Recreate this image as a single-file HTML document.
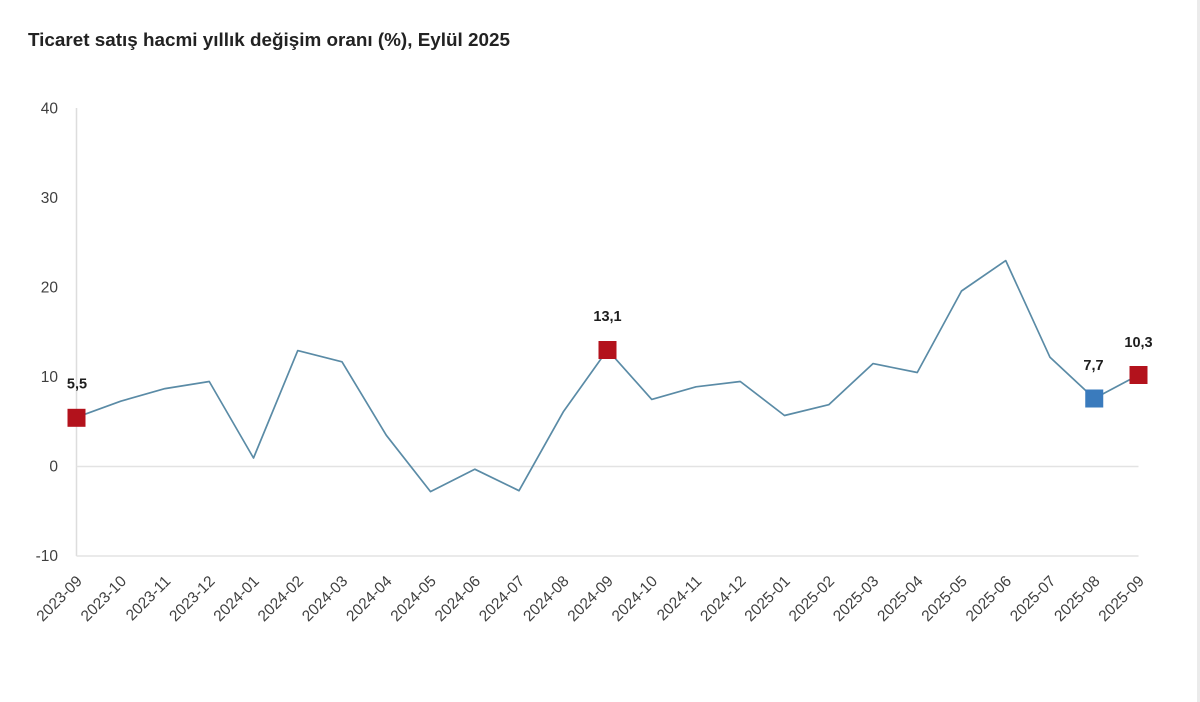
<!DOCTYPE html>
<html>
<head>
<meta charset="utf-8">
<style>
  html, body { margin: 0; padding: 0; background: #ffffff; }
  body { width: 1200px; height: 702px; overflow: hidden; }
  svg { display: block; }
</style>
</head>
<body>
<svg width="1200" height="702" viewBox="0 0 1200 702" xmlns="http://www.w3.org/2000/svg">
  <rect x="0" y="0" width="1200" height="702" fill="#ffffff"/>
  <!-- right border -->
  <rect x="1197" y="0" width="3" height="702" fill="#ebebeb"/>

  <!-- title -->
  <text x="28" y="46" font-family="Liberation Sans, Arial, sans-serif" font-size="18" font-weight="bold" fill="#222222" textLength="482" lengthAdjust="spacingAndGlyphs">Ticaret satış hacmi yıllık değişim oranı (%), Eylül 2025</text>

  <!-- axes / gridlines -->
  <line x1="76.5" y1="108" x2="76.5" y2="556" stroke="#dddddd" stroke-width="1.5"/>
  <line x1="76.5" y1="466.5" x2="1138.5" y2="466.5" stroke="#e3e3e3" stroke-width="1.5"/>
  <line x1="76.5" y1="556" x2="1138.5" y2="556" stroke="#e3e3e3" stroke-width="1.5"/>

  <!-- y tick labels -->
  <g font-family="Liberation Sans, Arial, sans-serif" font-size="15.5" fill="#3f3f3f" text-anchor="end">
    <text x="58" y="113.5">40</text>
    <text x="58" y="203">30</text>
    <text x="58" y="292.5">20</text>
    <text x="58" y="382">10</text>
    <text x="58" y="471.5">0</text>
    <text x="58" y="561">-10</text>
  </g>

  <!-- x tick labels -->
  <g font-family="Liberation Sans, Arial, sans-serif" font-size="15.5" fill="#3f3f3f" text-anchor="end">
    <text transform="translate(83,582) rotate(-45)">2023-09</text>
    <text transform="translate(127.25,582) rotate(-45)">2023-10</text>
    <text transform="translate(171.5,582) rotate(-45)">2023-11</text>
    <text transform="translate(215.75,582) rotate(-45)">2023-12</text>
    <text transform="translate(260,582) rotate(-45)">2024-01</text>
    <text transform="translate(304.25,582) rotate(-45)">2024-02</text>
    <text transform="translate(348.5,582) rotate(-45)">2024-03</text>
    <text transform="translate(392.75,582) rotate(-45)">2024-04</text>
    <text transform="translate(437,582) rotate(-45)">2024-05</text>
    <text transform="translate(481.25,582) rotate(-45)">2024-06</text>
    <text transform="translate(525.5,582) rotate(-45)">2024-07</text>
    <text transform="translate(569.75,582) rotate(-45)">2024-08</text>
    <text transform="translate(614,582) rotate(-45)">2024-09</text>
    <text transform="translate(658.25,582) rotate(-45)">2024-10</text>
    <text transform="translate(702.5,582) rotate(-45)">2024-11</text>
    <text transform="translate(746.75,582) rotate(-45)">2024-12</text>
    <text transform="translate(791,582) rotate(-45)">2025-01</text>
    <text transform="translate(835.25,582) rotate(-45)">2025-02</text>
    <text transform="translate(879.5,582) rotate(-45)">2025-03</text>
    <text transform="translate(923.75,582) rotate(-45)">2025-04</text>
    <text transform="translate(968,582) rotate(-45)">2025-05</text>
    <text transform="translate(1012.25,582) rotate(-45)">2025-06</text>
    <text transform="translate(1056.5,582) rotate(-45)">2025-07</text>
    <text transform="translate(1100.75,582) rotate(-45)">2025-08</text>
    <text transform="translate(1145,582) rotate(-45)">2025-09</text>
  </g>

  <!-- series line -->
  <polyline fill="none" stroke="#5a8ba6" stroke-width="1.7" stroke-linejoin="round"
    points="76.5,417.3 120.75,401.2 165,388.6 209.25,381.5 253.5,458.0 297.75,350.6 342,361.8 386.25,435.2 430.5,491.6 474.75,469.2 519,490.7 563.25,411.9 607.5,349.8 651.75,399.4 696,386.8 740.25,381.5 784.5,415.5 828.75,404.7 873,363.6 917.25,372.5 961.5,291.0 1005.75,260.6 1050,357.3 1094.25,398.5 1138.5,375"/>

  <!-- markers -->
  <rect x="67.5" y="408.8" width="18" height="18" fill="#b3121c"/>
  <rect x="598.5" y="341" width="18" height="18" fill="#b3121c"/>
  <rect x="1085.25" y="389.5" width="18" height="18" fill="#3a7bbd"/>
  <rect x="1129.5" y="366" width="18" height="18" fill="#b3121c"/>

  <!-- data labels -->
  <g font-family="Liberation Sans, Arial, sans-serif" font-size="14.5" font-weight="bold" fill="#1e1e1e" text-anchor="middle">
    <text x="77" y="388.5">5,5</text>
    <text x="607.5" y="321">13,1</text>
    <text x="1093.5" y="370">7,7</text>
    <text x="1138.5" y="347">10,3</text>
  </g>
</svg>
</body>
</html>
